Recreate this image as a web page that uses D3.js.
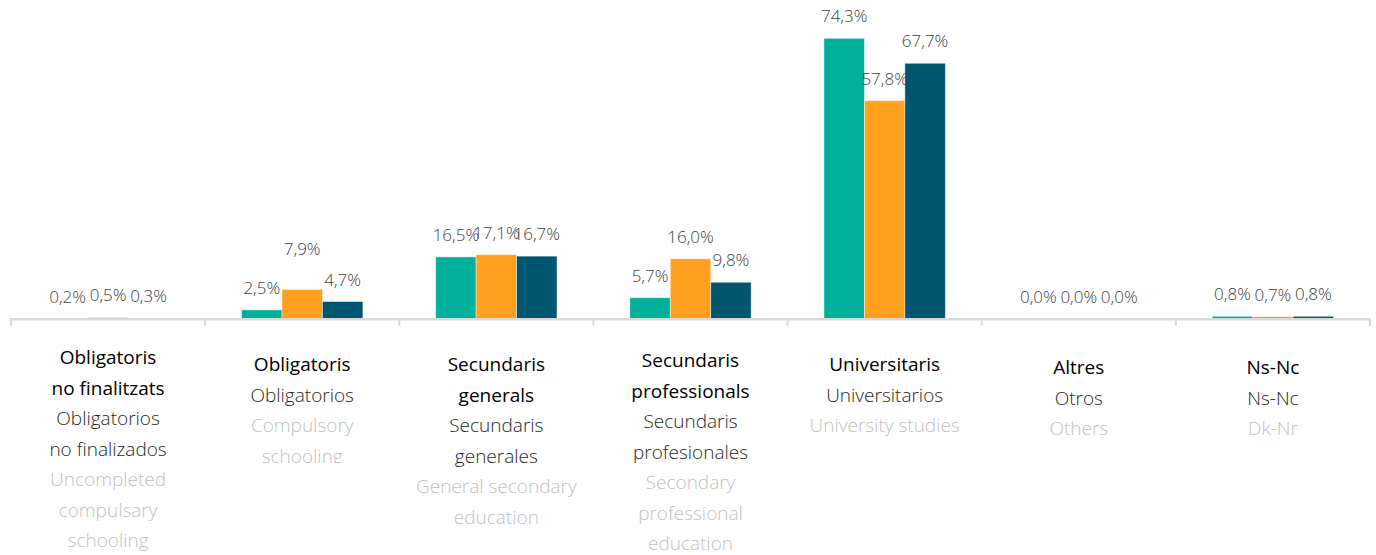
<!DOCTYPE html>
<html>
<head>
<meta charset="utf-8">
<script src="https://cdn.jsdelivr.net/npm/d3@7"></script>
<style>
  html, body { margin: 0; padding: 0; background: #fff; }
  svg { display: block; }
  text { font-family: "Open Sans", "Segoe UI", sans-serif; }
</style>
</head>
<body>
<svg id="chart" width="1376" height="555"></svg>
<script>
// ---- data ----
const categories = ["Obligatoris no finalitzats", "Obligatoris", "Secundaris generals", "Secundaris professionals", "Universitaris", "Altres", "Ns-Nc"];
const labelsCa = [["Obligatoris", "no finalitzats"], ["Obligatoris"], ["Secundaris", "generals"], ["Secundaris", "professionals"], ["Universitaris"], ["Altres"], ["Ns-Nc"]];
const labelsEs = [["Obligatorios", "no finalizados"], ["Obligatorios"], ["Secundaris", "generales"], ["Secundaris", "profesionales"], ["Universitarios"], ["Otros"], ["Ns-Nc"]];
const labelsEn = [["Uncompleted", "compulsary", "schooling"], ["Compulsory", "schooling"], ["General secondary", "education"], ["Secondary", "professional", "education"], ["University studies"], ["Others"], ["Dk-Nr"]];
const seriesNames = ["Sèrie 1", "Sèrie 2", "Sèrie 3"];
const series1 = [0.2, 2.5, 16.5, 5.7, 74.3, 0.0, 0.8];
const series2 = [0.5, 7.9, 17.1, 16.0, 57.8, 0.0, 0.7];
const series3 = [0.3, 4.7, 16.7, 9.8, 67.7, 0.0, 0.8];
const seriesValues = [series1, series2, series3];

// ---- layout / style ----
const colors = ["#00B09B", "#FFA01E", "#00566F"];
const labelFirstBaseline = [364, 371, 371, 367, 371, 374, 374];
const labelClipBottom = [null, 463, null, null, null, null, null];
const valueLabelNudge = [[0,0,0],[0,-18,0],[0,0,0],[0,0,0],[0,0,0],[0,0,0],[0,0,0]];
const lineH = 30.5;

const svg = d3.select("#chart");
const x0 = d3.scaleBand().domain(categories).range([11, 1370]).paddingInner(0).paddingOuter(0);
const x1 = d3.scaleBand().domain(seriesNames).range([0, x0.bandwidth()]).paddingInner(0).paddingOuter(0.9);
const y = d3.scaleLinear().domain([0, 80]).range([319.3, 319.3 - 80 * 3.782]);

const fmt = v => d3.format(".1f")(v).replace(".", ",") + "%";

const data = categories.map((c, i) => ({
  cat: c, i,
  vals: seriesNames.map((s, j) => ({ s, j, v: seriesValues[j][i] }))
}));

const groups = svg.append("g").selectAll("g").data(data).join("g")
  .attr("transform", d => `translate(${x0(d.cat)},0)`);

groups.selectAll("rect").data(d => d.vals).join("rect")
  .attr("x", d => x1(d.s))
  .attr("width", x1.bandwidth())
  .attr("y", d => y(d.v))
  .attr("height", d => y(0) - y(d.v))
  .attr("fill", d => colors[d.j])
  .attr("stroke", "rgba(255,255,255,0.55)")
  .attr("stroke-width", 0.8);

// axis
const axis = d3.axisBottom(x0).tickSize(0).tickFormat("");
const axisG = svg.append("g").attr("transform", `translate(0,${318.7})`).call(axis);
axisG.select(".domain").attr("stroke", "#D9D9D9").attr("stroke-width", 2.6);
const bounds = categories.map(c => x0(c)).concat([x0.range()[1]]);
svg.append("g").selectAll("line").data(bounds).join("line")
  .attr("x1", d => d).attr("x2", d => d)
  .attr("y1", 318).attr("y2", 326)
  .attr("stroke", "#D9D9D9").attr("stroke-width", 2);

// value labels
groups.each(function(d) {
  d3.select(this).selectAll("text.val").data(d.vals).join("text")
    .attr("class", "val")
    .attr("x", v => x1(v.s) + x1.bandwidth() / 2)
    .attr("y", v => y(v.v) - 16 + valueLabelNudge[d.i][v.j])
    .attr("text-anchor", "middle")
    .attr("font-size", 17)
    .attr("font-weight", 300)
    .attr("fill", "#404040")
    .text(v => fmt(v.v));
});

// category labels
const defs = svg.append("defs");
data.forEach(d => {
  const cx = x0(d.cat) + x0.bandwidth() / 2;
  const g = svg.append("g");
  if (labelClipBottom[d.i] != null) {
    const id = "clip" + d.i;
    defs.append("clipPath").attr("id", id).append("rect")
      .attr("x", x0(d.cat)).attr("y", 330).attr("width", x0.bandwidth()).attr("height", labelClipBottom[d.i] - 330);
    g.attr("clip-path", `url(#${id})`);
  }
  const lines = []
    .concat(labelsCa[d.i].map(t => ({ t, c: "#000000", w: 400 })))
    .concat(labelsEs[d.i].map(t => ({ t, c: "#1F1F1F", w: 300 })))
    .concat(labelsEn[d.i].map(t => ({ t, c: "#BFBFBF", w: 300 })));
  g.selectAll("text").data(lines).join("text")
    .attr("x", cx)
    .attr("y", (l, k) => labelFirstBaseline[d.i] + k * lineH)
    .attr("text-anchor", "middle")
    .attr("font-size", 19)
    .attr("font-weight", l => l.w)
    .attr("fill", l => l.c)
    .text(l => l.t);
});
</script>
</body>
</html>
